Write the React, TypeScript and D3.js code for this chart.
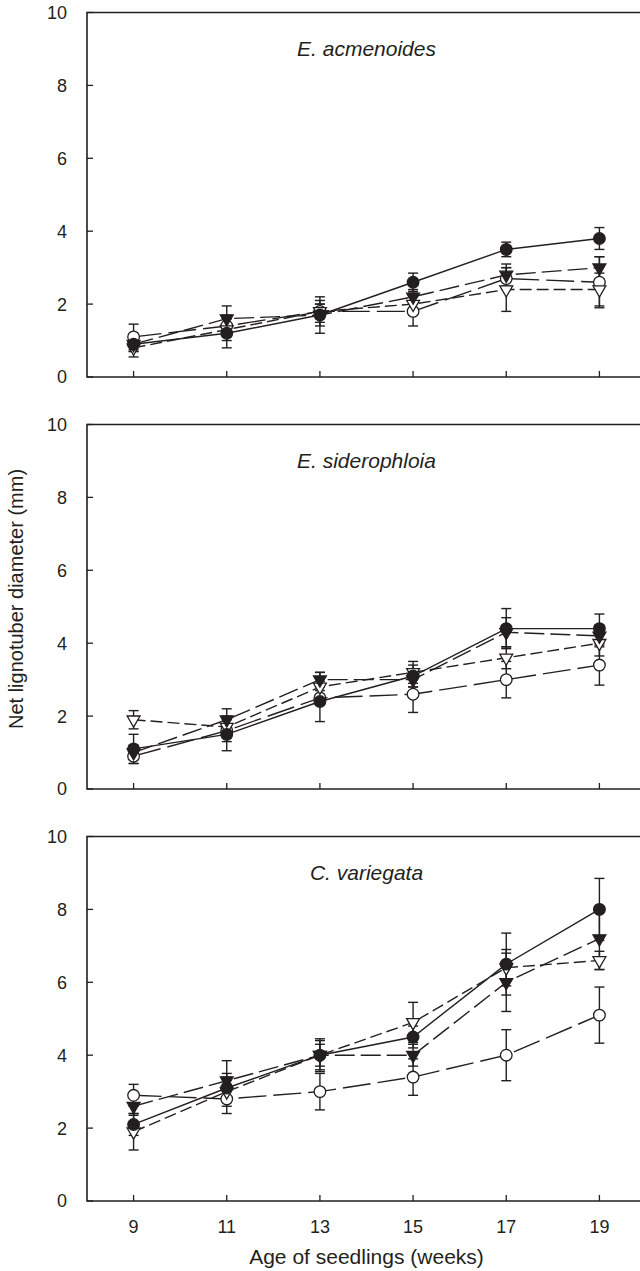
import * as d3 from 'd3'

const WEEKS = [9, 11, 13, 15, 17, 19]
const Y_TICKS = [0, 2, 4, 6, 8, 10]
const SPECIES = ['E. acmenoides', 'E. siderophloia', 'C. variegata']

// E. acmenoides
const acmFilledCircle = [0.9, 1.2, 1.7, 2.6, 3.5, 3.8]
const acmFilledCircleSE = [0.2, 0.4, 0.3, 0.25, 0.2, 0.3]
const acmOpenCircle = [1.1, 1.4, 1.8, 1.8, 2.7, 2.6]
const acmOpenCircleSE = [0.35, 0.3, 0.2, 0.4, 0.3, 0.7]
const acmFilledTri = [0.9, 1.6, 1.7, 2.2, 2.8, 3.0]
const acmFilledTriSE = [0.2, 0.35, 0.5, 0.2, 0.3, 0.3]
const acmOpenTri = [0.8, 1.3, 1.8, 2.0, 2.4, 2.4]
const acmOpenTriSE = [0.25, 0.3, 0.3, 0.3, 0.6, 0.45]

// E. siderophloia
const sidFilledCircle = [1.1, 1.5, 2.4, 3.1, 4.4, 4.4]
const sidFilledCircleSE = [0.4, 0.45, 0.55, 0.3, 0.55, 0.4]
const sidOpenCircle = [0.9, 1.6, 2.5, 2.6, 3.0, 3.4]
const sidOpenCircleSE = [0.2, 0.3, 0.2, 0.5, 0.5, 0.55]
const sidFilledTri = [1.0, 1.9, 3.0, 3.0, 4.3, 4.2]
const sidFilledTriSE = [0.2, 0.3, 0.2, 0.2, 0.4, 0.3]
const sidOpenTri = [1.9, 1.7, 2.8, 3.2, 3.6, 4.0]
const sidOpenTriSE = [0.25, 0.3, 0.4, 0.3, 0.3, 0.35]

// C. variegata
const varFilledCircle = [2.1, 3.1, 4.0, 4.5, 6.5, 8.0]
const varFilledCircleSE = [0.3, 0.4, 0.3, 0.3, 0.85, 0.85]
const varOpenCircle = [2.9, 2.8, 3.0, 3.4, 4.0, 5.1]
const varOpenCircleSE = [0.3, 0.4, 0.5, 0.5, 0.7, 0.77]
const varFilledTri = [2.6, 3.3, 4.0, 4.0, 6.0, 7.2]
const varFilledTriSE = [0.25, 0.55, 0.45, 0.3, 0.8, 0.85]
const varOpenTri = [1.9, 3.0, 4.0, 4.9, 6.4, 6.6]
const varOpenTriSE = [0.5, 0.4, 0.4, 0.55, 0.5, 0.25]

const INK = '#231f20'
const FONT = '"Liberation Sans", Arial, Helvetica, sans-serif'

// marker / line style per series, same order in every panel
const SERIES_STYLE = [
  { shape: 'circle', filled: true, dash: null },
  { shape: 'circle', filled: false, dash: '28,7' },
  { shape: 'triangle', filled: true, dash: '20,6' },
  { shape: 'triangle', filled: false, dash: '12,5' },
]

const panels = [
  {
    title: SPECIES[0],
    values: [acmFilledCircle, acmOpenCircle, acmFilledTri, acmOpenTri],
    errors: [acmFilledCircleSE, acmOpenCircleSE, acmFilledTriSE, acmOpenTriSE],
  },
  {
    title: SPECIES[1],
    values: [sidFilledCircle, sidOpenCircle, sidFilledTri, sidOpenTri],
    errors: [sidFilledCircleSE, sidOpenCircleSE, sidFilledTriSE, sidOpenTriSE],
  },
  {
    title: SPECIES[2],
    values: [varFilledCircle, varOpenCircle, varFilledTri, varOpenTri],
    errors: [varFilledCircleSE, varOpenCircleSE, varFilledTriSE, varOpenTriSE],
  },
]

const WIDTH = 640
const HEIGHT = 1271
const LEFT = 87
const RIGHT = 646
const PANEL_H = 364.5
const PANEL_STEP = 412
const FIRST_TOP = 12.5

const triangle = d3.symbol().type(d3.symbolTriangle).size(72)()

function Panel({ panel, top, showXLabels }) {
  const x = d3.scaleLinear().domain([8, 20]).range([LEFT, RIGHT])
  const y = d3.scaleLinear().domain([0, 10]).range([top + PANEL_H, top])
  const line = d3.line<number>()
    .x((_, i) => x(WEEKS[i]))
    .y(d => y(d))

  return (
    <g>
      {/* frame: top, left, bottom (right side runs off the page) */}
      <path
        d={`M${RIGHT},${top}H${LEFT}V${top + PANEL_H}H${RIGHT}`}
        fill="none"
        stroke={INK}
        strokeWidth={1.6}
      />

      {Y_TICKS.map(t => (
        <g key={t}>
          <line x1={LEFT} x2={LEFT + 6} y1={y(t)} y2={y(t)} stroke={INK} strokeWidth={1.3} />
          <text
            x={67}
            y={y(t)}
            dy="0.36em"
            textAnchor="end"
            fontSize={18}
            fill={INK}
          >
            {t}
          </text>
        </g>
      ))}

      {WEEKS.map(w => (
        <g key={w}>
          <line x1={x(w)} x2={x(w)} y1={top + PANEL_H} y2={top + PANEL_H - 6} stroke={INK} strokeWidth={1.3} />
          {showXLabels && (
            <text x={x(w)} y={top + PANEL_H + 32} textAnchor="middle" fontSize={18} fill={INK}>
              {w}
            </text>
          )}
        </g>
      ))}

      <text
        x={(LEFT + RIGHT) / 2}
        y={top + 43.5}
        textAnchor="middle"
        fontSize={21}
        fontStyle="italic"
        fill={INK}
      >
        {panel.title}
      </text>

      {/* error bars */}
      {panel.values.map((vals, s) => (
        <g key={'err' + s}>
          {vals.map((v, i) => {
            const e = panel.errors[s][i]
            const cx = x(WEEKS[i])
            return (
              <g key={i} stroke={INK} strokeWidth={1.4}>
                <line x1={cx} x2={cx} y1={y(v - e)} y2={y(v + e)} />
                <line x1={cx - 5} x2={cx + 5} y1={y(v - e)} y2={y(v - e)} />
                <line x1={cx - 5} x2={cx + 5} y1={y(v + e)} y2={y(v + e)} />
              </g>
            )
          })}
        </g>
      ))}

      {/* connecting lines */}
      {panel.values.map((vals, s) => (
        <path
          key={'line' + s}
          d={line(vals)}
          fill="none"
          stroke={INK}
          strokeWidth={1.4}
          strokeDasharray={SERIES_STYLE[s].dash || undefined}
        />
      ))}

      {/* markers */}
      {[1, 3, 2, 0].map(s => {
        const st = SERIES_STYLE[s]
        return (
          <g key={'mk' + s}>
            {panel.values[s].map((v, i) => {
              const cx = x(WEEKS[i])
              const cy = y(v)
              const fill = st.filled ? INK : '#fff'
              return st.shape === 'circle' ? (
                <circle key={i} cx={cx} cy={cy} r={5.8} fill={fill} stroke={INK} strokeWidth={1.3} />
              ) : (
                <path
                  key={i}
                  d={triangle}
                  transform={`translate(${cx},${cy}) rotate(180)`}
                  fill={fill}
                  stroke={INK}
                  strokeWidth={1.3}
                />
              )
            })}
          </g>
        )
      })}
    </g>
  )
}

export default function App() {
  const lastBottom = FIRST_TOP + 2 * PANEL_STEP + PANEL_H
  return (
    <svg
      width={WIDTH}
      height={HEIGHT}
      style={{ position: 'absolute', left: 0, top: 0, background: '#fff' }}
      fontFamily={FONT}
    >
      <rect width={WIDTH} height={HEIGHT} fill="#fff" />
      {panels.map((p, i) => (
        <Panel key={p.title} panel={p} top={FIRST_TOP + i * PANEL_STEP} showXLabels={i === 2} />
      ))}
      <text
        x={(LEFT + RIGHT) / 2}
        y={lastBottom + 63}
        textAnchor="middle"
        fontSize={21}
        fill={INK}
      >
        Age of seedlings (weeks)
      </text>
      <text
        transform={`translate(23, 599) rotate(-90)`}
        textAnchor="middle"
        fontSize={20}
        fill={INK}
      >
        Net lignotuber diameter (mm)
      </text>
    </svg>
  )
}
